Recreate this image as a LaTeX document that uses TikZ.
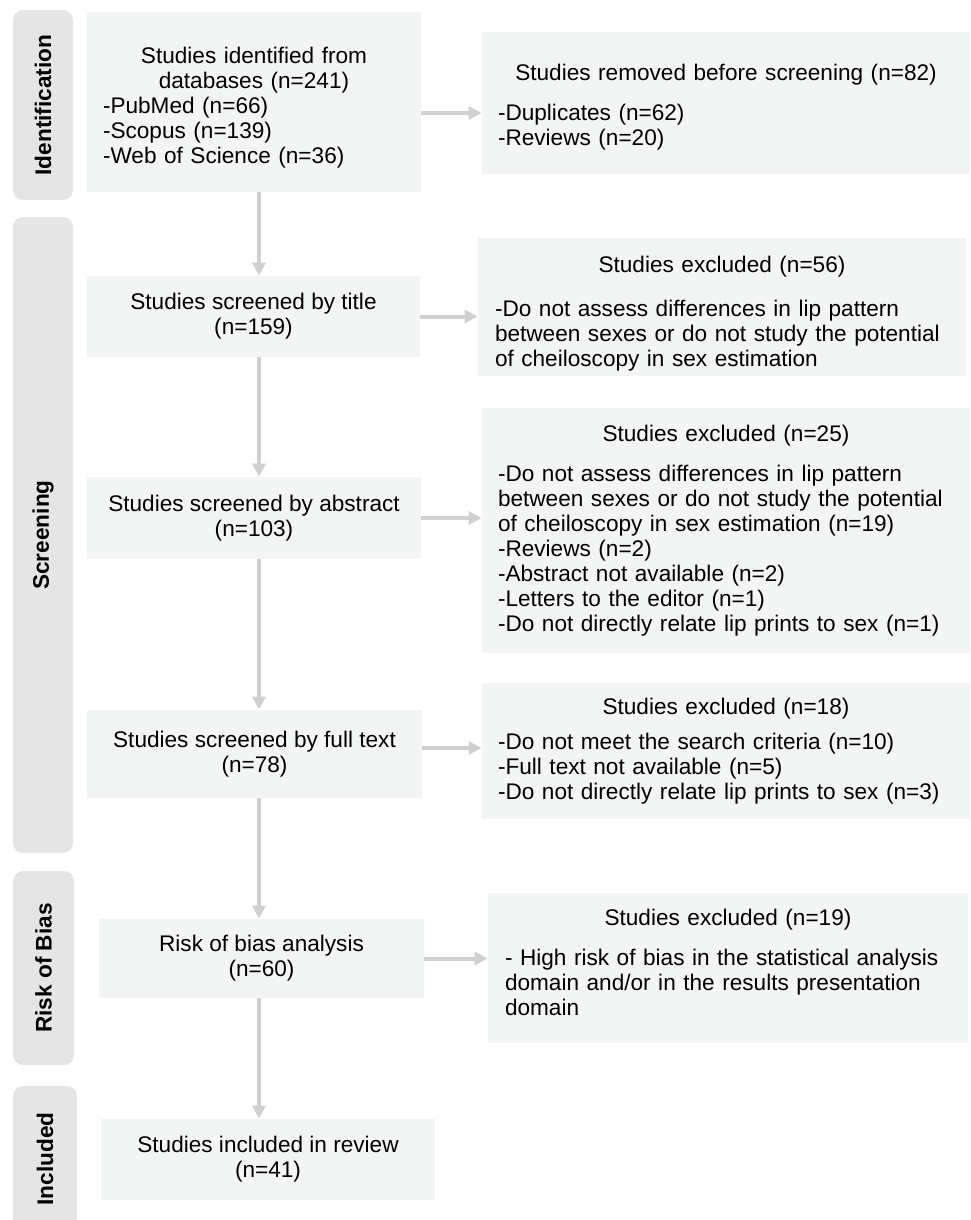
\documentclass[tikz,border=0pt]{standalone}
\usepackage{fontspec}
\setmainfont{Liberation Sans}
\usetikzlibrary{arrows.meta}
\definecolor{boxfill}{HTML}{F3F4F4}
\definecolor{barfill}{HTML}{E5E5E5}
\definecolor{arrowcol}{HTML}{D0D0D0}
\newcommand{\ctr}[1]{\hfill #1\hfill\null}
\begin{document}
\begin{tikzpicture}[x=0.5pt,y=-0.5pt,
  every node/.style={font=\fontsize{11.3}{12.5}\selectfont},
  box/.style={fill=boxfill, draw=none, inner sep=0pt, align=center},
  rbox/.style={fill=boxfill, draw=none, inner sep=0pt, align=left},
  bar/.style={fill=barfill, draw=none, rounded corners=5pt, rotate=90, inner sep=0pt,
    font=\fontsize{11.3}{12.5}\selectfont\bfseries},
  arr/.style={color=arrowcol, line width=2pt, -{Triangle[length=6.5pt,width=6.5pt]}}
]
\useasboundingbox (0,0) rectangle (970,1220);

% phase bars
\node[bar, minimum width=95pt, minimum height=30pt] (bid) at (43,105) {Identification};
\node[bar, minimum width=318pt, minimum height=30pt] (bscr) at (43,535) {Screening};
\node[bar, minimum width=97pt, minimum height=30.5pt] (brisk) at (43.5,968) {Risk of Bias};
\node[bar, minimum width=73pt, minimum height=32pt] (binc) at (45,1159) {Included};

% main column
\node[rbox, minimum width=167pt, minimum height=90pt, text width=151pt] (id) at (254,102)
  {\ctr{\rule{0pt}{14pt}Studies identified from}\\ \ctr{databases (n=241)}\\ -PubMed (n=66)\\ -Scopus (n=139)\\ -Web of Science (n=36)};
\node[box, minimum width=166.5pt, minimum height=40.5pt] (title) at (253.5,316.5)
  {Studies screened by title\\ (n=159)};
\node[box, minimum width=167pt, minimum height=41pt] (abs) at (254,518)
  {Studies screened by abstract\\ (n=103)};
\node[box, minimum width=167.5pt, minimum height=44pt] (full) at (254.5,754)
  {Studies screened by full text\\ (n=78)};
\node[box, minimum width=162.5pt, minimum height=39.5pt] (risk) at (261.5,958.5)
  {Risk of bias analysis\\ (n=60)};
\node[box, minimum width=167pt, minimum height=40.5pt] (inc) at (268,1159.5)
  {Studies included in review\\ (n=41)};

% right column
\node[rbox, minimum width=244pt, minimum height=71pt, text width=228pt] (rem) at (726,103)
  {\ctr{\rule{0pt}{12.5pt}Studies removed before screening (n=82)}\\[7.5pt] -Duplicates (n=62)\\ -Reviews (n=20)};
\node[rbox, minimum width=244pt, minimum height=69pt, text width=227pt] (ex56) at (722,307)
  {\ctr{\rule{0pt}{14.5pt}Studies excluded (n=56)}\\[9.5pt] -Do not assess differences in lip pattern\\ between sexes or do not study the potential\\ of cheiloscopy in sex estimation};
\node[rbox, minimum width=244pt, minimum height=122.5pt, text width=228pt] (ex25) at (726,530.5)
  {\ctr{Studies excluded (n=25)}\\[7.5pt] -Do not assess differences in lip pattern\\ between sexes or do not study the potential\\ of cheiloscopy in sex estimation (n=19)\\ -Reviews (n=2)\\ -Abstract not available (n=2)\\ -Letters to the editor (n=1)\\ -Do not directly relate lip prints to sex (n=1)};
\node[rbox, minimum width=244pt, minimum height=68pt, text width=228pt] (ex18) at (726,751)
  {\ctr{Studies excluded (n=18)}\\[5pt] -Do not meet the search criteria (n=10)\\ -Full text not available (n=5)\\ -Do not directly relate lip prints to sex (n=3)};
\node[rbox, minimum width=240pt, minimum height=75pt, text width=223pt] (ex19) at (728,968)
  {\ctr{Studies excluded (n=19)}\\[7.5pt] - High risk of bias in the statistical analysis\\ domain and/or in the results presentation\\ domain\rule[-5.5pt]{0pt}{5.5pt}};

% connectors
\coordinate (vx) at (259,0);
\coordinate (h1) at (0,113);
\coordinate (h4) at (0,748);
\draw[arr] (id.south -| vx) -- (title.north -| vx);
\draw[arr] (title.south -| vx) -- (abs.north -| vx);
\draw[arr] (abs.south -| vx) -- (full.north -| vx);
\draw[arr] (full.south -| vx) -- (risk.north -| vx);
\draw[arr] (risk.south -| vx) -- (inc.north -| vx);
\draw[arr] (id.east |- h1) -- (rem.west |- h1);
\draw[arr] (title.east) -- (ex56.west |- title.east);
\draw[arr] (abs.east) -- (ex25.west |- abs.east);
\draw[arr] (full.east |- h4) -- (ex18.west |- h4);
\draw[arr] (risk.east) -- (ex19.west |- risk.east);
\end{tikzpicture}
\end{document}
